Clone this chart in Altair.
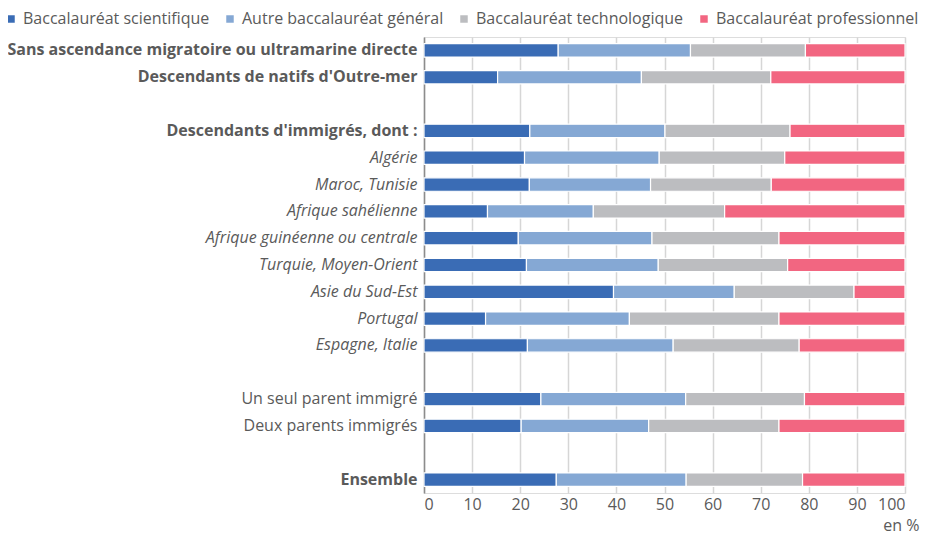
import json
import altair as alt
import pandas as pd

categories = [
    "Sans ascendance migratoire ou ultramarine directe",
    "Descendants de natifs d'Outre-mer",
    " ",
    "Descendants d'immigrés, dont :",
    "Algérie",
    "Maroc, Tunisie",
    "Afrique sahélienne",
    "Afrique guinéenne ou centrale",
    "Turquie, Moyen-Orient",
    "Asie du Sud-Est",
    "Portugal",
    "Espagne, Italie",
    "  ",
    "Un seul parent immigré",
    "Deux parents immigrés",
    "   ",
    "Ensemble",
]
rows = [
    "Sans ascendance migratoire ou ultramarine directe",
    "Descendants de natifs d'Outre-mer",
    "Descendants d'immigrés, dont :",
    "Algérie",
    "Maroc, Tunisie",
    "Afrique sahélienne",
    "Afrique guinéenne ou centrale",
    "Turquie, Moyen-Orient",
    "Asie du Sud-Est",
    "Portugal",
    "Espagne, Italie",
    "Un seul parent immigré",
    "Deux parents immigrés",
    "Ensemble",
]
bold_labels = [
    "Sans ascendance migratoire ou ultramarine directe",
    "Descendants de natifs d'Outre-mer",
    "Descendants d'immigrés, dont :",
    "Ensemble",
]
italic_labels = [
    "Algérie", "Maroc, Tunisie", "Afrique sahélienne",
    "Afrique guinéenne ou centrale", "Turquie, Moyen-Orient",
    "Asie du Sud-Est", "Portugal", "Espagne, Italie",
]

series = [
    "Baccalauréat scientifique",
    "Autre baccalauréat général",
    "Baccalauréat technologique",
    "Baccalauréat professionnel",
]
scientifique = [27.9, 15.3, 22.0, 20.9, 21.9, 13.2, 19.6, 21.3, 39.4, 12.8, 21.5, 24.3, 20.2, 27.5]
autre_general = [27.5, 29.9, 28.1, 28.0, 25.2, 22.0, 27.8, 27.4, 25.1, 29.9, 30.3, 30.1, 26.5, 27.0]
technologique = [23.9, 26.9, 26.0, 26.1, 25.1, 27.3, 26.4, 26.9, 24.9, 31.1, 26.2, 24.7, 27.1, 24.2]
professionnel = [20.7, 27.9, 23.9, 25.0, 27.8, 37.5, 26.2, 24.4, 10.6, 26.2, 22.0, 20.9, 26.2, 21.3]
colors = ["#3a6cb5", "#85a8d4", "#bcbdc0", "#f26681"]

records = []
for i, r in enumerate(rows):
    for k, (s, vals) in enumerate(zip(series, [scientifique, autre_general, technologique, professionnel])):
        records.append({"row": r, "serie": s, "valeur": vals[i], "k": k})
df = pd.DataFrame(records)

W, H = 481, 456
PL, PT = 416, 29
TOTAL_W, TOTAL_H = 912, 526
PR = TOTAL_W - PL - W
PB = TOTAL_H - PT - H

bold_test = "indexof(" + json.dumps(bold_labels, ensure_ascii=False) + ", datum.value) >= 0"
italic_test = "indexof(" + json.dumps(italic_labels, ensure_ascii=False) + ", datum.value) >= 0"

TXT = "#5a5a5a"

chart = alt.Chart(df).mark_bar(stroke="white", strokeWidth=1.2).encode(
    x=alt.X("valeur:Q", stack="zero",
            scale=alt.Scale(domain=[0, 100], nice=False),
            axis=alt.Axis(values=list(range(0, 101, 10)), title="en %", grid=True,
                          gridColor="#d6d6d6", gridWidth=1.5, domain=False, ticks=False,
                          labelFontSize=16, labelColor=TXT, labelPadding=3,
                          labelFont="Open Sans",
                          titleFont="Open Sans", titleFontSize=16, titleFontWeight="normal",
                          titleColor=TXT, titleAnchor="end", titleAlign="right",
                          titleBaseline="alphabetic", titleX=W + 14, titleY=37)),
    y=alt.Y("row:N", title=None,
            scale=alt.Scale(domain=categories, paddingInner=0.5, paddingOuter=0.25),
            axis=alt.Axis(grid=False, ticks=False, domain=True, domainColor="#8c8c8c",
                          domainWidth=1.5, labelFontSize=16, labelColor=TXT,
                          labelFont="Open Sans", labelPadding=7, labelLimit=500,
                          labelFontWeight={"condition": {"test": bold_test, "value": "bold"}, "value": "normal"},
                          labelFontStyle={"condition": {"test": italic_test, "value": "italic"}, "value": "normal"})),
    color=alt.Color("serie:N", scale=alt.Scale(domain=series, range=colors),
                    legend=alt.Legend(title=None, orient="none", legendX=-PL - 5, legendY=-PT + 3,
                                      direction="horizontal", symbolType="square",
                                      symbolSize=56, symbolStrokeWidth=0, padding=0,
                                      labelFontSize=16, labelColor=TXT, labelFont="Open Sans",
                                      labelOffset=4, columnPadding=12, labelLimit=400)),
    order=alt.Order("k:Q", sort="ascending"),
).properties(
    width=W, height=H,
    autosize=alt.AutoSizeParams(type="none"),
    padding={"left": PL, "top": PT, "right": PR, "bottom": PB},
).configure_view(stroke=None).configure(font="Open Sans")

chart.save("out.html", embed_options={"renderer": "svg", "actions": False})
